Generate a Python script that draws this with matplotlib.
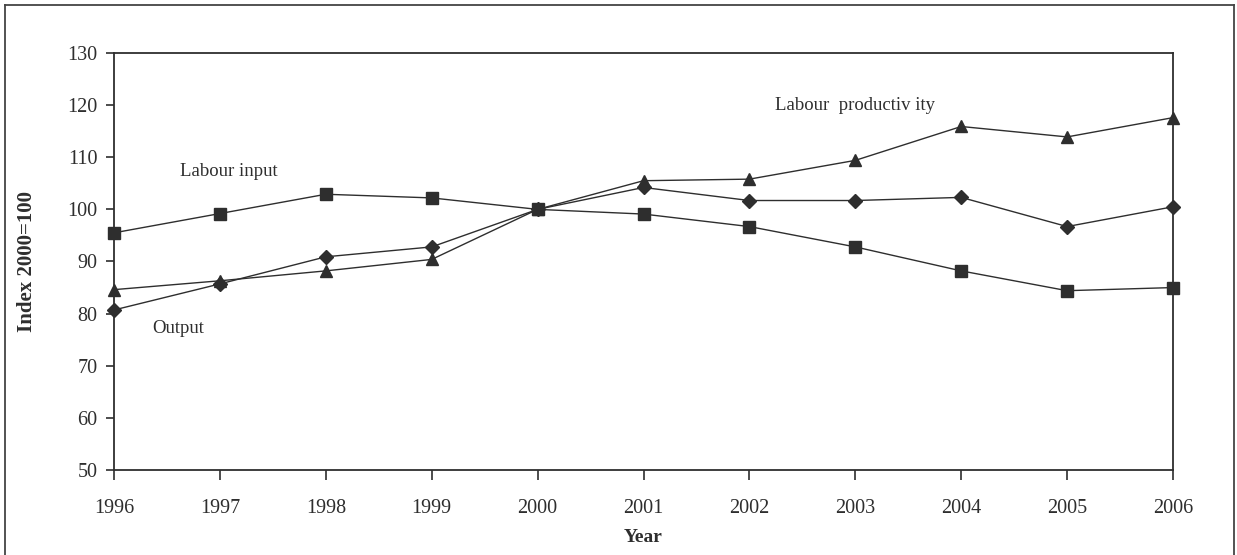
import matplotlib.pyplot as plt
from matplotlib.lines import Line2D

years = [1996, 1997, 1998, 1999, 2000, 2001, 2002, 2003, 2004, 2005, 2006]
labour_input = [95.5, 99.2, 102.9, 102.2, 100.0, 99.1, 96.7, 92.8, 88.2, 84.4, 85.0]
output = [80.7, 85.7, 90.9, 92.8, 100.0, 104.2, 101.7, 101.7, 102.3, 96.7, 100.5]
productivity = [84.6, 86.3, 88.2, 90.4, 100.0, 105.5, 105.8, 109.4, 115.9, 113.9, 117.6]
y_ticks = [50, 60, 70, 80, 90, 100, 110, 120, 130]

INK = "#2e2e2e"
plt.rcParams["font.family"] = ["Liberation Serif", "DejaVu Serif"]

fig = plt.figure(figsize=(12.37, 5.55), dpi=100)
ax = fig.add_axes([114 / 1237, 1 - 470 / 555, (1173 - 114) / 1237, (470 - 53) / 555])

line_kw = dict(color=INK, linewidth=1.0, clip_on=False, zorder=3)
ax.plot(years, labour_input, marker="s", markersize=8, **line_kw)
ax.plot(years, output, marker="D", markersize=7, **line_kw)
ax.plot(years, productivity, marker="^", markersize=9, **line_kw)

ax.text(1996.62, 107.2, "Labour input", fontsize=13.5, color=INK, va="center")
ax.text(1996.36, 77.2, "Output", fontsize=13.5, color=INK, va="center")
ax.text(2002.24, 120.0, "Labour  productiv ity", fontsize=13.5, color=INK, va="center")

ax.set_xlim(1996, 2006)
ax.set_ylim(50, 130)
ax.set_xticks(years)
ax.set_yticks(y_ticks)
ax.tick_params(direction="out", length=6, width=1.2, color=INK,
               labelsize=14.5, labelcolor=INK)
ax.tick_params(axis="y", pad=6)
ax.tick_params(axis="x", length=7, pad=14)
for side in ["left", "bottom", "top", "right"]:
    ax.spines[side].set_color(INK)
    ax.spines[side].set_linewidth(1.3)

ax.set_xlabel("Year", fontsize=14, fontweight="bold", color=INK, labelpad=8)
ax.set_ylabel("Index 2000=100", fontsize=15, fontweight="bold", color=INK, labelpad=22)

# outer border around the chart area
frame_kw = dict(color="#444444", linewidth=1.3, transform=fig.transFigure)
fig.add_artist(Line2D([5 / 1237, 1234 / 1237], [1 - 5 / 555, 1 - 5 / 555], **frame_kw))
fig.add_artist(Line2D([5 / 1237, 5 / 1237], [0, 1 - 5 / 555], **frame_kw))
fig.add_artist(Line2D([1234 / 1237, 1234 / 1237], [0, 1 - 5 / 555], **frame_kw))

fig.savefig("out.png", dpi=100)
